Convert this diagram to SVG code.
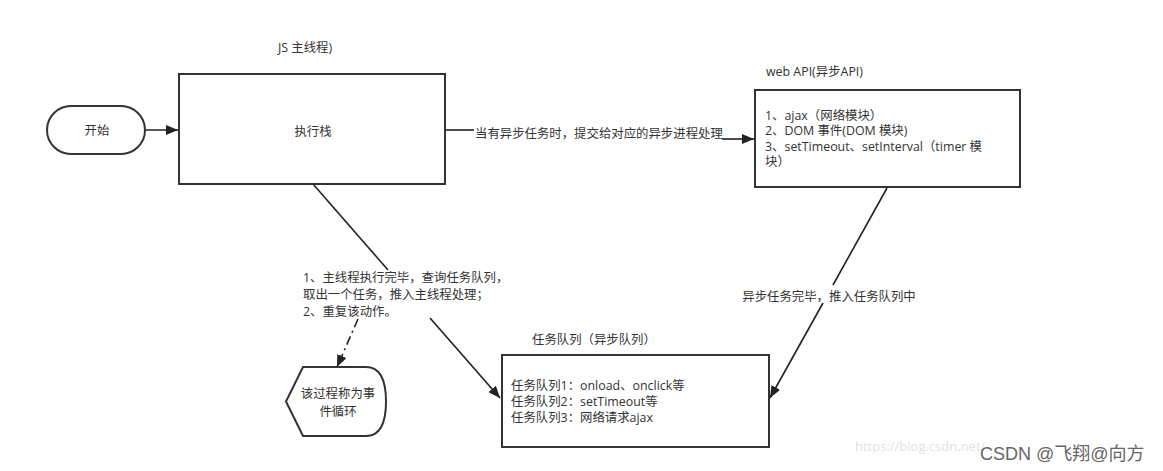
<svg xmlns="http://www.w3.org/2000/svg" width="1163" height="471" viewBox="0 0 1163 471">
<style>
text{font-family:"Open Sans","Noto Sans CJK SC",sans-serif;font-size:12.4px;fill:#333}
.box{fill:#fff;stroke:#333;stroke-width:2}
.ln{fill:none;stroke:#222;stroke-width:1.6}
.c{text-anchor:middle}
.wm{fill:#e2e2e2;font-size:13px}
.csdn{fill:#666;font-size:18px;font-family:"Liberation Sans","Noto Sans CJK SC",sans-serif}
</style>
<defs>
<marker id="arr" viewBox="0 0 12 10" refX="12" refY="5" markerWidth="12" markerHeight="10" orient="auto" markerUnits="userSpaceOnUse"><path d="M0,0 L12,5 L0,10 z" fill="#222"/></marker>
</defs>
<rect width="1163" height="471" fill="#fff"/>
<g id="connectors">
<path class="ln" d="M145,130 H178" marker-end="url(#arr)"/>
<path class="ln" d="M445,130 H474"/>
<path class="ln" d="M722,139 H754" marker-end="url(#arr)"/>
<text x="475" y="138">当有异步任务时，提交给对应的异步进程处理</text>
<path class="ln" d="M313,184 L388,270"/>
<path class="ln" d="M430,318 L500,398" marker-end="url(#arr)"/>
<text x="303" y="282">1、主线程执行完毕，查询任务队列，</text>
<text x="303" y="299">取出一个任务，推入主线程处理；</text>
<text x="303" y="316">2、重复该动作。</text>
<path class="ln" d="M358,319 L337,367" stroke-dasharray="9,4,2,4" marker-end="url(#arr)"/>
<path class="ln" d="M887,188 L833,285"/>
<path class="ln" d="M823,303 L770,398" marker-end="url(#arr)"/>
<text class="c" x="829" y="301">异步任务完毕，推入任务队列中</text>
</g>
<g id="start">
<rect class="box" x="47" y="106" width="98" height="48" rx="24"/>
<text class="c" x="97" y="135">开始</text>
</g>
<g id="exec-stack">
<text x="278" y="52">JS 主线程)</text>
<rect class="box" x="179" y="74" width="266" height="110"/>
<text class="c" x="313" y="136">执行栈</text>
</g>
<g id="web-api">
<text x="766" y="76">web API(异步API)</text>
<rect class="box" x="755" y="90" width="265" height="97"/>
<text x="765" y="120">1、ajax（网络模块）</text>
<text x="765" y="135">2、DOM 事件(DOM 模块)</text>
<text x="765" y="151">3、setTimeout、setInterval（timer 模</text>
<text x="765" y="166">块）</text>
</g>
<g id="task-queue">
<text x="532" y="344">任务队列（异步队列）</text>
<rect class="box" x="502" y="355" width="267" height="92"/>
<text x="511" y="390">任务队列1：onload、onclick等</text>
<text x="511" y="406">任务队列2：setTimeout等</text>
<text x="511" y="422">任务队列3：网络请求ajax</text>
</g>
<g id="event-loop">
<path class="box" d="M303,367 H366 Q386,367 386,401.5 Q386,436 366,436 H303 L286,401.5 Z"/>
<text class="c" x="338" y="398">该过程称为事</text>
<text class="c" x="338" y="416">件循环</text>
</g>
<g id="watermark">
<text class="wm" x="855" y="451">https://blog.csdn.net/</text>
<text class="csdn" x="980" y="460">CSDN @飞翔@向方</text>
</g>
</svg>
